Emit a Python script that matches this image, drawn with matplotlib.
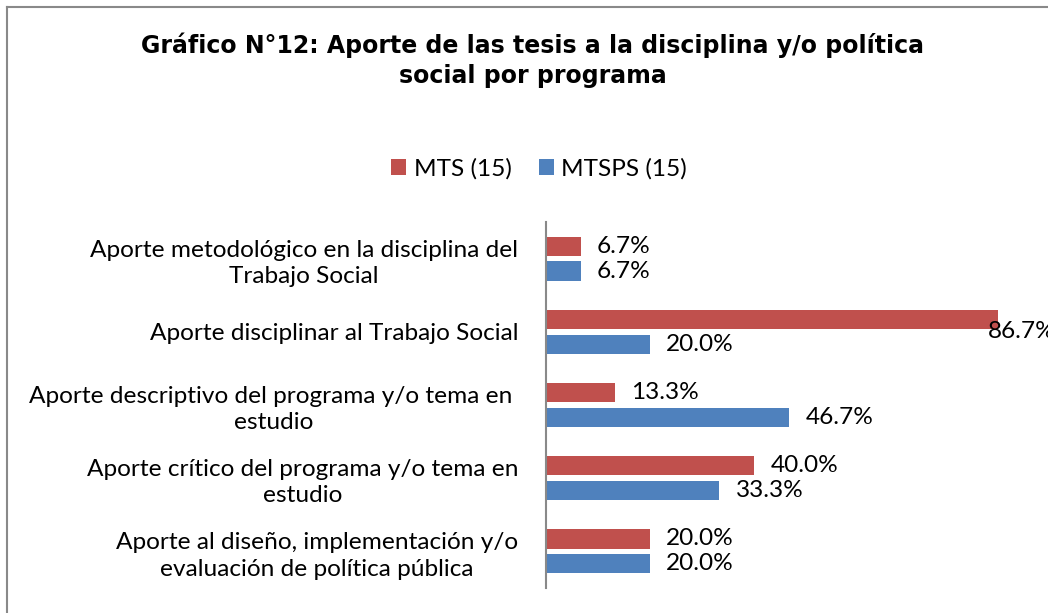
import matplotlib.pyplot as plt
import numpy as np
from matplotlib.lines import Line2D

# datos del gráfico
categorias = [
    "Aporte metodológico en la disciplina del\nTrabajo Social",
    "Aporte disciplinar al Trabajo Social",
    "Aporte descriptivo del programa y/o tema en \nestudio",
    "Aporte crítico del programa y/o tema en\nestudio",
    "Aporte al diseño, implementación y/o\nevaluación de política pública",
]
mts = [6.7, 86.7, 13.3, 40.0, 20.0]
mtsps = [6.7, 20.0, 46.7, 33.3, 20.0]
series = ["MTS (15)", "MTSPS (15)"]
titulo = "Gráfico N°12: Aporte de las tesis a la disciplina y/o política\nsocial por programa"

ROJO = "#C0504D"
AZUL = "#4F81BD"
GRIS = "#898989"
W, H = 1048, 613
FS = 17.6

plt.rcParams["font.family"] = ["Lato", "DejaVu Sans"]

fig = plt.figure(figsize=(W / 100, H / 100), dpi=100)
ax = fig.add_axes([546 / W, 1 - 588 / H, 521 / W, 366 / H])

y = np.arange(len(categorias))
alto = 0.262
desp = 0.17
b1 = ax.barh(y - desp, mts, height=alto, color=ROJO, label=series[0])
b2 = ax.barh(y + desp, mtsps, height=alto, color=AZUL, label=series[1])

# etiquetas de valores
for barras, vals in ((b1, mts), (b2, mtsps)):
    for b, v in zip(barras, vals):
        off = (16, 0)
        if v > 80:
            off = (-10, -12)  # no cabe a la derecha
        ax.annotate("%.1f%%" % v, (v, b.get_y() + b.get_height() / 2),
                    xytext=off, textcoords="offset pixels",
                    ha="left", va="center", fontsize=FS, color="black")

ax.set_xlim(0, 100)
ax.set_ylim(len(categorias) - 0.5, -0.5)
ax.set_yticks(y)
ax.set_yticklabels(categorias, fontsize=FS, ha="right",
                   multialignment="center", linespacing=1.3)
ax.tick_params(axis="y", length=0, pad=20)
ax.xaxis.set_visible(False)
for s in ("top", "right", "bottom"):
    ax.spines[s].set_visible(False)
ax.spines["left"].set_color(GRIS)
ax.spines["left"].set_linewidth(1.5)

fig.text(533 / W, 1 - 60 / H, titulo, ha="center", va="center",
         fontsize=17, fontweight="bold", family="DejaVu Sans",
         linespacing=1.3)

fig.legend(handles=[b1, b2], labels=series, loc="center",
           bbox_to_anchor=(539 / W, 1 - 169 / H), ncol=2, frameon=False,
           fontsize=FS, handlelength=0.62, handleheight=0.6,
           handletextpad=0.3, columnspacing=1.1)

# borde del área del gráfico
fig.add_artist(Line2D([7 / W, 1], [1 - 7 / H] * 2, color=GRIS, lw=1.5))
fig.add_artist(Line2D([7 / W] * 2, [0, 1 - 7 / H], color=GRIS, lw=1.5))

fig.savefig("out.png", dpi=100)
